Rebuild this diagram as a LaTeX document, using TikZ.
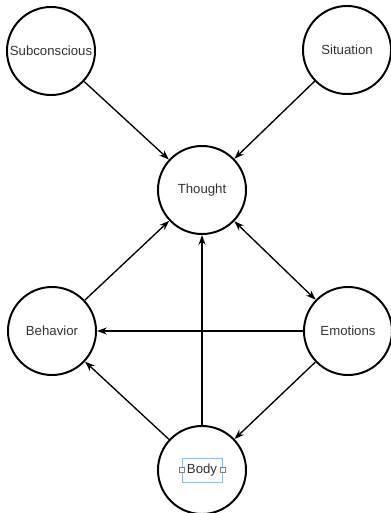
\documentclass[tikz,border=0pt]{standalone}
\usepackage{fontspec}
\setmainfont{Liberation Sans}
\usetikzlibrary{arrows.meta}
\definecolor{selblue}{RGB}{150,185,235}

\begin{document}
\begin{tikzpicture}[x=0.025cm,y=-0.025cm,
	concept/.style={circle,draw,line width=1.4pt,minimum size=2.2cm,inner sep=0pt,
		text=black!80,font=\fontsize{9.4}{11}\selectfont},
	link/.style={line width=0.95pt,-{Stealth[length=7pt,width=5pt]}},
	handle/.style={draw=gray,fill=white,line width=0.3pt,minimum size=3.5pt,inner sep=0pt}]
	\useasboundingbox (0,0) rectangle (390,513);
	\node[concept] (sub) at (51,51) {Subconscious};
	\node[concept] (sit) at (347,50) {Situation};
	\node[concept] (thought) at (202,190) {Thought};
	\node[concept] (beh) at (52,331) {Behavior};
	\node[concept] (emo) at (348,331) {Emotions};
	\node[concept] (body) at (202,470) {};
	\node[draw=selblue,line width=0.5pt,inner sep=0pt,minimum width=1cm,minimum height=0.6cm,
		text=black!80,font=\fontsize{9.4}{11}\selectfont] (sel) at (body.center) {Body};
	\node[handle] (hl) at (sel.west) {};
	\node[handle] (hr) at (sel.east) {};
	% arrows into thought
	\draw[link] (sub) -- (thought);
	\draw[link] (sit) -- (thought);
	\draw[link] (beh) -- (thought);
	\draw[link] (body) -- (thought);
	\draw[link,{Stealth[length=7pt,width=5pt]}-{Stealth[length=7pt,width=5pt]}] (thought) -- (emo);
	% lower part
	\draw[link] (emo) -- (beh);
	\draw[link] (body) -- (beh);
	\draw[link] (emo) -- (body);
\end{tikzpicture}
\end{document}
